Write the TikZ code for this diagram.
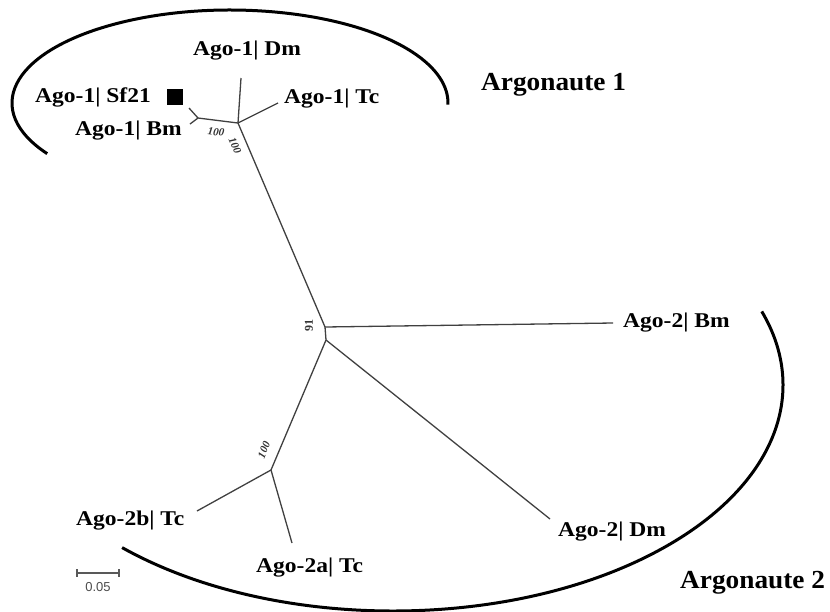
\documentclass[tikz,border=0pt]{standalone}
\usepackage{fontspec}
\setmainfont{Liberation Serif}
\newfontfamily\sansf{Liberation Sans}
\begin{document}
\begin{tikzpicture}[x=1pt,y=-1pt,
  br/.style={draw=black!75, line width=1.3pt},
  arcline/.style={draw=black, line width=3pt},
  lab/.style={font=\fontsize{21}{25}\selectfont\bfseries, inner sep=0pt, anchor=base west, xscale=1.12},
  grp/.style={font=\fontsize{26}{30}\selectfont\bfseries, inner sep=0pt, anchor=base west, xscale=1.05},
  bs/.style={font=\fontsize{11}{13}\selectfont\bfseries\itshape, inner sep=0pt, text=black!80}]
\useasboundingbox (0,0) rectangle (830,611);
% tree coordinates
\coordinate (n1) at (238,123);
\coordinate (n2) at (198,118);
\coordinate (tDmA) at (241,78);
\coordinate (tTcA) at (278,103);
\coordinate (tSf) at (189,108);
\coordinate (tBmA) at (190,124);
\coordinate (c) at (325,327);
\coordinate (c2) at (326,340);
\coordinate (tBmB) at (613,323);
\coordinate (n3) at (271,470);
\coordinate (tDmB) at (550,519);
\coordinate (t2b) at (197,511);
\coordinate (t2a) at (292,543);
% branches
\draw[br] (n2) -- (tSf);
\draw[br] (n2) -- (tBmA);
\draw[br] (n2) -- (n1);
\draw[br] (n1) -- (tDmA);
\draw[br] (n1) -- (tTcA);
\draw[br] (n1) -- (c);
\draw[br] (c) -- (tBmB);
\draw[br] (c) -- (c2);
\draw[br] (c2) -- (n3);
\draw[br] (c2) -- (tDmB);
\draw[br] (n3) -- (t2b);
\draw[br] (n3) -- (t2a);
% bootstrap values
\node[bs, rotate=-7] (b1) at (216,132) {100};
\node[bs, rotate=-67] (b2) at (235,146) {100};
\node[bs, rotate=90, font=\fontsize{12}{14}\selectfont\bfseries] (b3) at (309,325) {91};
\node[bs, rotate=67] (b4) at (264,450) {100};
% labels
\node[lab] (lDmA) at (193,55) {Ago-1| Dm};
\node[lab] (lTcA) at (284,103) {Ago-1| Tc};
\node[lab] (lSf) at (35,102) {Ago-1| Sf21};
\node[lab] (lBmA) at (75,135) {Ago-1| Bm};
\node[lab] (lBmB) at (623,327) {Ago-2| Bm};
\node[lab] (lDmB) at (558,536) {Ago-2| Dm};
\node[lab] (l2b) at (76,525) {Ago-2b| Tc};
\node[lab] (l2a) at (256,572) {Ago-2a| Tc};
\node[grp] (g1) at (481,90) {Argonaute 1};
\node[grp] (g2) at (680,588) {Argonaute 2};
% marker square
\node[fill=black, minimum size=16pt, inner sep=0pt] (sq) at (175,97) {};
% group arcs
\coordinate (e1) at (230,103);
\coordinate (e2) at (393,385);
\draw[arcline] (e1) ++(213:218pt and 93pt) arc[start angle=213, end angle=-1, x radius=218pt, y radius=93pt];
\draw[arcline] (e2) ++(226:390pt and 226pt) arc[start angle=226, end angle=379, x radius=390pt, y radius=226pt];
% scale bar
\coordinate (s1) at (77,573);
\coordinate (s2) at (119,573);
\draw[draw=black!65, line width=1.2pt] (s1) -- (s2);
\draw[draw=black!65, line width=1.2pt] (s1) ++(0,-4) -- ++(0,8);
\draw[draw=black!65, line width=1.2pt] (s2) ++(0,-4) -- ++(0,8);
\node[font=\sansf\fontsize{13}{15}\selectfont, text=black!70, inner sep=0pt] (sl) at (98,587) {0.05};
\end{tikzpicture}
\end{document}
